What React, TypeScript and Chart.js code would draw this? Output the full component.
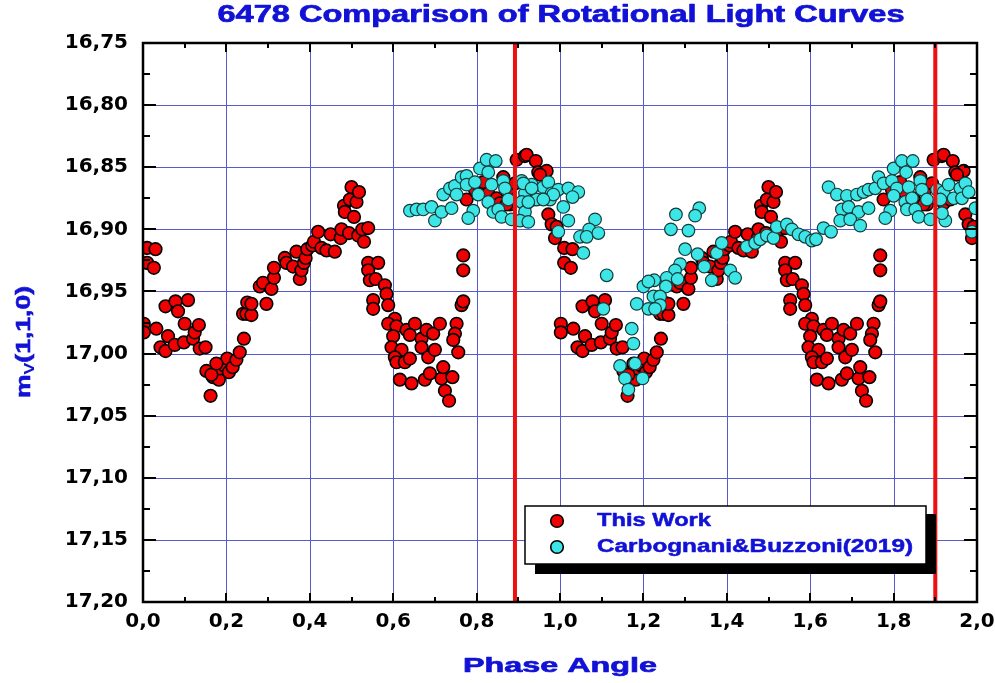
import React, { useEffect, useRef } from 'react';
import { Chart, registerables } from 'chart.js';

Chart.register(...registerables);

const TITLE = '6478 Comparison of Rotational Light Curves';
const X_TITLE = 'Phase Angle';
const Y_TITLE_MAIN = 'm';
const Y_TITLE_SUB = 'V';
const Y_TITLE_REST = '(1,1,0)';
const SERIES_NAMES = ['This Work', 'Carbognani&Buzzoni(2019)'];

// "This Work": one folded rotational cycle (phase 0–1); it is plotted for phase and phase + 1
const thisWorkPhase = [
  0.002, 0.002, 0.010, 0.030, 0.010, 0.026, 0.032, 0.042, 0.054, 0.054,
  0.060, 0.076, 0.078, 0.084, 0.098, 0.100, 0.108, 0.120, 0.124, 0.134,
  0.136, 0.150, 0.152, 0.162, 0.168, 0.182, 0.184, 0.196, 0.202, 0.206,
  0.215, 0.224, 0.232, 0.242, 0.240, 0.248, 0.250, 0.260, 0.260, 0.280,
  0.288, 0.296, 0.308, 0.314, 0.314, 0.340, 0.344, 0.360, 0.368, 0.376,
  0.380, 0.386, 0.390, 0.394, 0.406, 0.410, 0.420, 0.428, 0.440, 0.450,
  0.460, 0.474, 0.476, 0.482, 0.484, 0.494, 0.496, 0.500, 0.506, 0.512,
  0.516, 0.518, 0.526, 0.530, 0.540, 0.540, 0.564, 0.540, 0.544, 0.558,
  0.580, 0.584, 0.552, 0.552, 0.588, 0.604, 0.588, 0.608, 0.600, 0.632,
  0.652, 0.640, 0.668, 0.668, 0.680, 0.696, 0.712, 0.752, 0.748, 0.744,
  0.756, 0.596, 0.620, 0.604, 0.608, 0.628, 0.640, 0.684, 0.700, 0.616,
  0.644, 0.676, 0.688, 0.716, 0.720, 0.742, 0.724, 0.734, 0.768, 0.768,
  0.764, 0.768, 0.776, 0.796, 0.808, 0.816, 0.828, 0.848, 0.856, 0.864,
  0.876, 0.880, 0.872, 0.892, 0.896, 0.916, 0.920, 0.942, 0.948, 0.968,
  0.952, 0.920, 0.936, 0.972, 0.980, 0.988, 0.992, 0.164, 0.176,
];
const thisWorkMag = [
  16.976, 16.983, 16.915, 16.916, 16.927, 16.931, 16.980, 16.995, 16.998, 16.962,
  16.986, 16.993, 16.958, 16.966, 16.991, 16.976, 16.957, 16.988, 16.983, 16.977,
  16.996, 16.995, 17.014, 17.034, 17.019, 17.021, 17.012, 17.010, 17.004, 17.015,
  17.011, 17.005, 16.999, 16.988, 16.968, 16.968, 16.959, 16.969, 16.960, 16.946,
  16.943, 16.960, 16.948, 16.939, 16.931, 16.923, 16.927, 16.930, 16.918, 16.940,
  16.933, 16.927, 16.923, 16.916, 16.913, 16.910, 16.902, 16.915, 16.917, 16.904,
  16.918, 16.907, 16.900, 16.881, 16.886, 16.903, 16.876, 16.866, 16.890, 16.878,
  16.905, 16.870, 16.900, 16.910, 16.899, 16.927, 16.927, 16.933, 16.941, 16.940,
  16.945, 16.952, 16.957, 16.964, 16.961, 16.972, 16.976, 16.978, 16.986, 16.981,
  16.976, 16.985, 16.988, 16.995, 16.981, 16.984, 16.976, 16.976, 16.984, 16.989,
  16.999, 16.995, 16.997, 17.003, 17.007, 17.007, 17.004, 17.003, 16.997, 17.021,
  17.024, 17.021, 17.016, 17.020, 17.011, 17.019, 17.030, 17.038, 16.921, 16.933,
  16.961, 16.958, 16.876, 16.868, 16.866, 16.862, 16.871, 16.875, 16.879, 16.858,
  16.868, 16.880, 16.880, 16.863, 16.844, 16.841, 16.840, 16.845, 16.854, 16.853,
  16.856, 16.879, 16.876, 16.888, 16.896, 16.907, 16.898, 17.017, 17.008,
];
const thisWorkCycles = [0, 1];

// Carbognani & Buzzoni (2019)
const cbPhase = [
  0.640, 0.656, 0.672, 0.692, 0.700, 0.716, 0.740, 0.720, 0.736, 0.748,
  0.764, 0.776, 0.752, 0.776, 0.796, 0.808, 0.828, 0.824, 0.846, 0.804,
  0.792, 0.780, 0.836, 0.828, 0.840, 0.852, 0.860, 0.864, 0.868, 0.876,
  0.884, 0.908, 0.916, 0.908, 0.916, 0.904, 0.924, 0.932, 0.944, 0.960,
  0.972, 0.980, 0.976, 0.996, 1.020, 1.044, 1.030, 1.008, 1.020, 0.996,
  1.084, 1.070, 1.048, 1.064, 1.092, 1.056, 1.112, 1.104, 0.912, 0.932,
  0.984, 0.960, 0.924,
  1.172, 1.176, 1.144, 1.180, 1.156, 1.198, 1.164, 1.184, 1.200,
  1.278, 1.334, 1.324, 1.266, 1.308, 1.300, 1.330, 1.288, 1.276, 1.256,
  1.226, 1.212, 1.282, 1.254, 1.224, 1.240, 1.240, 1.212, 1.228,
  1.376, 1.388, 1.346, 1.364, 1.408, 1.420, 1.448, 1.468, 1.480, 1.496,
  1.512, 1.520, 1.544, 1.556, 1.572, 1.588, 1.604, 1.614, 1.632, 1.650,
  1.644, 1.664, 1.688, 1.712, 1.728, 1.740, 1.756, 1.764, 1.776, 1.800,
  1.820, 1.846, 1.830, 1.676, 1.692, 1.716, 1.740, 1.672, 1.696, 1.720,
  1.792, 1.780, 1.796, 1.808, 1.800, 1.828, 1.836, 1.844, 1.832, 1.852,
  1.860, 1.864, 1.868, 1.880, 1.888, 1.904, 1.920, 1.912, 1.932, 1.944,
  1.924, 1.916, 1.960, 1.972, 1.964, 1.980, 1.996, 1.988,
];
const cbMag = [
  16.885, 16.884, 16.884, 16.882, 16.893, 16.886, 16.883, 16.872, 16.867, 16.865,
  16.858, 16.857, 16.872, 16.864, 16.862, 16.851, 16.854, 16.844, 16.845, 16.872,
  16.885, 16.891, 16.864, 16.878, 16.886, 16.884, 16.890, 16.861, 16.867, 16.876,
  16.892, 16.861, 16.871, 16.878, 16.886, 16.893, 16.894, 16.864, 16.876, 16.866,
  16.862, 16.871, 16.876, 16.868, 16.867, 16.870, 16.874, 16.882, 16.893, 16.902,
  16.892, 16.900, 16.906, 16.906, 16.903, 16.919, 16.937, 16.964, 16.863, 16.867,
  16.872, 16.876, 16.878,
  16.980, 16.992, 17.010, 17.008, 17.020, 17.020, 17.029, 16.960, 16.946,
  16.888, 16.883, 16.889, 16.900, 16.901, 16.916, 16.920, 16.928, 16.933, 16.939,
  16.941, 16.942, 16.940, 16.946, 16.954, 16.954, 16.961, 16.964, 16.964,
  16.919, 16.911, 16.930, 16.941, 16.933, 16.939, 16.914, 16.911, 16.908, 16.905,
  16.907, 16.898, 16.896, 16.900, 16.904, 16.906, 16.909, 16.908, 16.899, 16.902,
  16.866, 16.872, 16.873, 16.872, 16.870, 16.868, 16.867, 16.858, 16.863, 16.851,
  16.845, 16.845, 16.854, 16.884, 16.882, 16.886, 16.883, 16.893, 16.892, 16.897,
  16.885, 16.891, 16.861, 16.867, 16.873, 16.878, 16.866, 16.875, 16.884, 16.884,
  16.890, 16.861, 16.868, 16.876, 16.892, 16.868, 16.870, 16.876, 16.864, 16.875,
  16.893, 16.887, 16.867, 16.863, 16.875, 16.870, 16.883, 16.902,
];

// vertical reference lines (phase)
const markerPhases = [0.892, 1.9];

const X_MIN = 0;
const X_MAX = 2;
const X_STEP = 0.2;
const Y_MIN = 16.75;
const Y_MAX = 17.2;
const Y_STEP = 0.05;

const RED = '#f00000';
const CYAN = '#3ce6e6';
const BLUE_TEXT = '#1212d6';
const GRID = '#5a5ad0';

function fitText(ctx: CanvasRenderingContext2D, text: string, x: number, cy: number, size: number, width: number, color: string, align: 'left' | 'center', stroke = 0.7) {
  ctx.save();
  ctx.font = `bold ${size}px "Liberation Sans", Arial, sans-serif`;
  const w = ctx.measureText(text).width;
  const sx = width / w;
  ctx.translate(align === 'left' ? x : x - width / 2, cy);
  ctx.scale(sx, 1);
  ctx.textAlign = 'left';
  ctx.textBaseline = 'middle';
  ctx.fillStyle = color;
  ctx.fillText(text, 0, 0);
  if (stroke > 0) {
    ctx.strokeStyle = color;
    ctx.lineWidth = stroke;
    ctx.lineJoin = 'round';
    ctx.strokeText(text, 0, 0);
  }
  ctx.restore();
}

const gridPlugin = {
  id: 'gridLines',
  beforeDatasetsDraw(chart: any) {
    const { ctx, chartArea: a, scales } = chart;
    ctx.save();
    ctx.strokeStyle = GRID;
    ctx.lineWidth = 1;
    scales.x.ticks.forEach((t: any) => {
      const px = Math.round(scales.x.getPixelForValue(t.value)) + 0.5;
      ctx.beginPath();
      ctx.moveTo(px, a.top);
      ctx.lineTo(px, a.bottom);
      ctx.stroke();
    });
    scales.y.ticks.forEach((t: any) => {
      const py = Math.round(scales.y.getPixelForValue(t.value)) + 0.5;
      ctx.beginPath();
      ctx.moveTo(a.left, py);
      ctx.lineTo(a.right, py);
      ctx.stroke();
    });
    ctx.restore();
  },
};

const framePlugin = {
  id: 'frame',
  afterDraw(chart: any) {
    const { ctx, chartArea: a, scales } = chart;
    const xs = scales.x;
    const ys = scales.y;
    ctx.save();
    ctx.strokeStyle = '#000';
    ctx.lineWidth = 2;
    ctx.lineCap = 'butt';
    // x ticks (top and bottom, inward)
    const nx = Math.round((X_MAX - X_MIN) / (X_STEP / 2));
    for (let i = 0; i <= nx; i++) {
      const v = X_MIN + (i * X_STEP) / 2;
      const px = Math.round(xs.getPixelForValue(v));
      const len = i % 2 === 0 ? 9 : 5;
      ctx.beginPath();
      ctx.moveTo(px, a.bottom);
      ctx.lineTo(px, a.bottom - len);
      ctx.moveTo(px, a.top);
      ctx.lineTo(px, a.top + len);
      ctx.stroke();
    }
    const ny = Math.round((Y_MAX - Y_MIN) / (Y_STEP / 2));
    for (let i = 0; i <= ny; i++) {
      const v = Y_MIN + (i * Y_STEP) / 2;
      const py = Math.round(ys.getPixelForValue(v));
      const len = i % 2 === 0 ? 13 : 7;
      ctx.beginPath();
      ctx.moveTo(a.left, py);
      ctx.lineTo(a.left + len, py);
      ctx.moveTo(a.right, py);
      ctx.lineTo(a.right - len, py);
      ctx.stroke();
    }
    ctx.lineWidth = 2.5;
    ctx.strokeRect(a.left, a.top, a.right - a.left, a.bottom - a.top);

    // title and axis titles
    const cx = (a.left + a.right) / 2;
    fitText(ctx, TITLE, cx + 1, 16, 23, 687, BLUE_TEXT, 'center');
    fitText(ctx, X_TITLE, cx, 666, 21, 194, BLUE_TEXT, 'center');

    // y axis title (rotated, with subscript)
    ctx.save();
    ctx.translate(24, 342);
    ctx.rotate(-Math.PI / 2);
    ctx.fillStyle = BLUE_TEXT;
    ctx.strokeStyle = BLUE_TEXT;
    ctx.lineWidth = 0.6;
    ctx.textBaseline = 'middle';
    ctx.textAlign = 'left';
    const mainFont = 'bold 21px "Liberation Sans", Arial, sans-serif';
    const subFont = 'bold 14px "Liberation Sans", Arial, sans-serif';
    ctx.font = mainFont;
    const wM = ctx.measureText(Y_TITLE_MAIN).width;
    const wR = ctx.measureText(Y_TITLE_REST).width;
    ctx.font = subFont;
    const wS = ctx.measureText(Y_TITLE_SUB).width;
    const total = wM + wS + wR;
    const targetLen = 112;
    ctx.scale(targetLen / total, 1);
    let pos = -total / 2;
    ctx.font = mainFont;
    ctx.fillText(Y_TITLE_MAIN, pos, 0);
    ctx.strokeText(Y_TITLE_MAIN, pos, 0);
    pos += wM;
    ctx.font = subFont;
    ctx.fillText(Y_TITLE_SUB, pos, 6);
    pos += wS;
    ctx.font = mainFont;
    ctx.fillText(Y_TITLE_REST, pos, 0);
    ctx.strokeText(Y_TITLE_REST, pos, 0);
    ctx.restore();

    // legend box with shadow
    const lx = 525, ly = 506, lw = 401, lh = 58;
    ctx.fillStyle = '#000';
    ctx.fillRect(lx + 10, ly + 8, lw, lh + 2);
    ctx.fillStyle = '#fff';
    ctx.fillRect(lx, ly, lw, lh);
    ctx.lineWidth = 1.5;
    ctx.strokeStyle = '#000';
    ctx.strokeRect(lx, ly, lw, lh);
    const fills = [RED, CYAN];
    const rows = [521, 547];
    for (let i = 0; i < 2; i++) {
      ctx.beginPath();
      ctx.arc(557, rows[i], 6.3, 0, Math.PI * 2);
      ctx.fillStyle = fills[i];
      ctx.fill();
      ctx.lineWidth = 1.6;
      ctx.strokeStyle = '#000';
      ctx.stroke();
    }
    fitText(ctx, SERIES_NAMES[0], 597, 521, 18, 114, BLUE_TEXT, 'left', 0.5);
    fitText(ctx, SERIES_NAMES[1], 597, 547, 18, 316, BLUE_TEXT, 'left', 0.5);
    ctx.restore();
  },
};

export default function App() {
  const ref = useRef<HTMLCanvasElement>(null);
  useEffect(() => {
    const thisWork: { x: number; y: number }[] = [];
    thisWorkCycles.forEach((c) => {
      thisWorkPhase.forEach((p, i) => {
        if (p + c <= X_MAX) thisWork.push({ x: p + c, y: thisWorkMag[i] });
      });
    });
    const cb = cbPhase.map((p, i) => ({ x: p, y: cbMag[i] }));
    const lines = markerPhases.map((p) => ({
      label: 'ref ' + p,
      data: [
        { x: p, y: Y_MIN },
        { x: p, y: Y_MAX },
      ],
      showLine: true,
      borderColor: '#ee1010',
      borderWidth: 4,
      pointRadius: 0,
      order: 0,
      clip: 0,
    }));
    const tickFont = { family: '"DejaVu Sans", sans-serif', weight: 'bold' as const, size: 20 };
    const chart = new Chart(ref.current!, {
      type: 'scatter',
      data: {
        datasets: [
          ...lines,
          {
            label: SERIES_NAMES[1],
            data: cb,
            backgroundColor: CYAN,
            borderColor: '#153b3b',
            borderWidth: 1.2,
            pointRadius: 6.3,
            order: 1,
          },
          {
            label: SERIES_NAMES[0],
            data: thisWork,
            backgroundColor: RED,
            borderColor: '#000',
            borderWidth: 1.6,
            pointRadius: 6.3,
            order: 2,
          },
        ],
      },
      options: {
        responsive: false,
        animation: false,
        events: [],
        layout: { padding: { top: 43, right: 18, left: 0, bottom: 0 } },
        plugins: {
          legend: { display: false },
          title: { display: false },
          tooltip: { enabled: false },
        },
        scales: {
          x: {
            type: 'linear',
            min: X_MIN,
            max: X_MAX,
            ticks: {
              stepSize: X_STEP,
              autoSkip: false,
              maxRotation: 0,
              padding: 8,
              color: '#000',
              font: tickFont,
              callback: (v: any) => Number(v).toFixed(1).replace('.', ','),
            },
            grid: { display: false, drawTicks: false },
            border: { display: false },
            afterFit: (s: any) => {
              s.height = 81;
              s.paddingLeft = 0;
              s.paddingRight = 0;
            },
          },
          y: {
            type: 'linear',
            reverse: true,
            min: Y_MIN,
            max: Y_MAX,
            ticks: {
              stepSize: Y_STEP,
              autoSkip: false,
              padding: 15,
              color: '#000',
              font: tickFont,
              callback: (v: any) => Number(v).toFixed(2).replace('.', ','),
            },
            grid: { display: false, drawTicks: false },
            border: { display: false },
            afterFit: (s: any) => {
              s.width = 143;
              s.paddingTop = 0;
              s.paddingBottom = 0;
            },
          },
        },
      },
      plugins: [gridPlugin, framePlugin],
    } as any);
    return () => chart.destroy();
  }, []);
  return (
    <div style={{ position: 'fixed', left: 0, top: 0, width: 995, height: 683, background: '#fff' }}>
      <canvas ref={ref} width={995} height={683} style={{ display: 'block' }} />
    </div>
  );
}
